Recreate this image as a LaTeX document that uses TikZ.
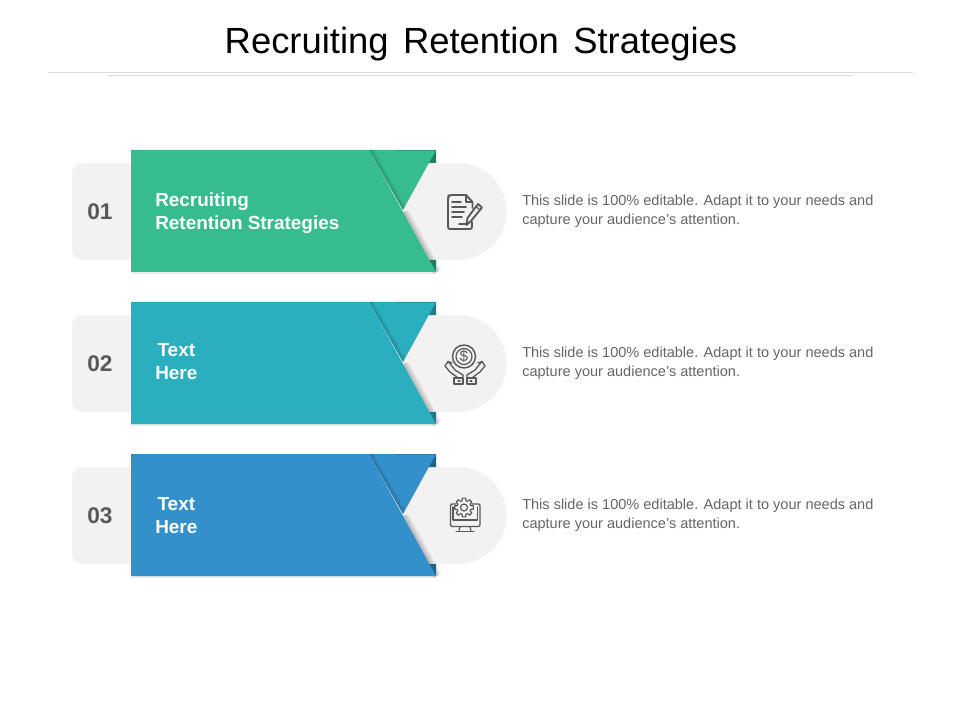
\documentclass[tikz,border=0pt]{standalone}
\usepackage{fontspec}
\setmainfont{Liberation Sans}
\usetikzlibrary{calc}
\definecolor{cGreen}{HTML}{36BC8F}
\definecolor{cGreenD}{HTML}{1F7F62}
\definecolor{cTeal}{HTML}{2AAFBF}
\definecolor{cTealD}{HTML}{1C7C8A}
\definecolor{cBlue}{HTML}{3490CB}
\definecolor{cBlueD}{HTML}{1F6389}
\definecolor{cPanel}{HTML}{F2F2F3}
\definecolor{cIcon}{HTML}{595959}
\definecolor{cBody}{HTML}{666666}
\tikzset{
  titletext/.style={font=\fontsize{27.3}{32}\selectfont,text=black,inner sep=0pt},
  numtext/.style={font=\fontsize{17}{20}\bfseries\selectfont,text=cIcon,inner sep=0pt},
  labeltext/.style={font=\fontsize{14.2}{17.2}\bfseries\selectfont,text=white,align=left,inner sep=0pt,anchor=west},
  bodytext/.style={font=\fontsize{10.9}{14.2}\selectfont,text=cBody,align=left,inner sep=0pt,anchor=west},
  iconline/.style={draw=cIcon,line width=1.4pt,line join=round,line cap=round},
  iconthin/.style={draw=cIcon,line width=0.9pt,line join=round,line cap=round},
  rule/.style={draw=black!14,line width=0.6pt},
}
\newcommand{\ribbonrow}[4]{%
\begin{scope}[shift={(0,#1)}]
  % panel
  \fill[cPanel,rounded corners=7.5pt] (72,163) rectangle (200,260);
  \fill[cPanel] (150,163) rectangle (458,260);
  \fill[cPanel] (458,211.5) circle[radius=36.4pt];
  % soft shadow right of the lower edge
  \foreach \w/\o in {8/0.03,6/0.05,4/0.06,2/0.08}{
    \draw[black,opacity=\o,line width=\w pt] (404,212) -- (437,272);
  }
  % soft line under the ribbon
  \fill[black,opacity=0.08] (131,272) rectangle (436,274);
  % dark corners
  \fill[#3] (428,163) -- (436,163) -- (436,150) -- cycle;
  \fill[#3] (428,260) -- (436,260) -- (436,272) -- cycle;
  % flap
  \fill[#2] (369,150) -- (436,150) -- (403,210) -- cycle;
  % flap shadow
  \begin{scope}
    \clip (369,150) -- (436,150) -- (403,210) -- cycle;
    \foreach \w/\o in {7/0.03,5/0.05,3/0.06,1.5/0.07}{
      \draw[black,opacity=\o,line width=\w pt] (369,150) -- (403,210);
    }
  \end{scope}
  % main
  \fill[#2] (131,150) -- (369,150) -- (436,272) -- (131,272) -- cycle;
  \draw[#3,opacity=0.45,line width=0.6pt] (396,150.2) -- (436,150.2);
  \node[numtext] (num#4) at (100,212) {#4};
\end{scope}}
\begin{document}
\begin{tikzpicture}[x=0.75pt,y=-0.75pt]
\useasboundingbox (0,0) rectangle (960,720);
\fill[white] (0,0) rectangle (960,720);
\node[titletext] (title) at (481,44) {Recruiting\hspace{0.12em} Retention\hspace{0.12em} Strategies};
\coordinate (ruleAa) at (48,72); \coordinate (ruleAb) at (913,72);
\coordinate (ruleBa) at (108,75); \coordinate (ruleBb) at (853,75);
\draw[rule] (ruleAa) -- (ruleAb);
\draw[rule] (ruleBa) -- (ruleBb);

\ribbonrow{0}{cGreen}{cGreenD}{01}
\ribbonrow{152}{cTeal}{cTealD}{02}
\ribbonrow{304}{cBlue}{cBlueD}{03}

\node[labeltext] (lab1) at (155,213) {Recruiting\\Retention Strategies};
\node[labeltext,align=center] (lab2) at (155,362) {Text\\Here};
\node[labeltext,align=center] (lab3) at (155,516) {Text\\Here};

\node[bodytext] (body1) at (522,211) {This slide is 100\% editable. Adapt it to your needs and\\capture your audience's attention.};
\node[bodytext] (body2) at (522,363) {This slide is 100\% editable. Adapt it to your needs and\\capture your audience's attention.};
\node[bodytext] (body3) at (522,515) {This slide is 100\% editable. Adapt it to your needs and\\capture your audience's attention.};

% icon 1: document and pen
\draw[iconline,rounded corners=1.5pt] (466,195) -- (449.5,195) -- (448,196.5) -- (448,229) -- (472,229) -- (472,222);
\draw[iconline] (466,195) -- (472.5,202) -- (472.5,208);
\draw[iconline] (466,195) -- (466,202) -- (472.5,202);
\draw[iconline] (452,202) -- (461,202) (452,207) -- (466,207) (452,212) -- (464,212) (452,217) -- (462,217) (459,224) -- (466,224);
\draw[iconline] (478,204) -- (482,207.5) -- (471,221) -- (466.5,225) -- (467.5,218) -- cycle;
\draw[iconthin] (476,206.5) -- (480,210);

% icon 2: coin in hands
\draw[iconthin,line width=1.1pt] (464,356.5) circle[radius=11.5];
\draw[iconthin] (464,356.5) circle[radius=8];
\node[font=\fontsize{11.5}{12}\selectfont,text=cIcon,inner sep=0pt] (dollar) at (464,356.5) {\$};
\draw[iconthin,line width=1pt] (457,377) -- (450,372) -- (445,366) -- (448,361.5) -- (451,365) -- (455,370) -- (463,375) -- (463,378);
\draw[iconthin,line width=1pt] (448,361.5) -- (452,363);
\draw[iconthin,line width=1pt] (473,377) -- (480,372) -- (485,366) -- (482,361.5) -- (479,365) -- (475,370) -- (467,375) -- (467,378);
\draw[iconthin,line width=1pt] (482,361.5) -- (478,363);
\draw[iconthin,line width=1pt] (454,378) rectangle (463,384);
\draw[iconthin,line width=1pt] (467,378) rectangle (476,384);
\draw[iconthin] (458,381) -- (460,381) (470,381) -- (472,381);

% icon 3: monitor with gear
\draw[iconthin,line width=1.1pt,rounded corners=1pt] (456,504) -- (450.5,504) -- (450.5,526.5) -- (480,526.5) -- (480,504) -- (472,504);
\draw[iconthin] (453,507) -- (453,520) -- (477.5,520) -- (477.5,507);
\draw[iconthin] (460,527) -- (459,530.5) (470,527) -- (471,530.5);
\draw[iconthin,line width=1.1pt] (456,531.5) -- (474,531.5);
\begin{scope}[shift={(464,507.5)}]
  \draw[iconthin,fill=cPanel] (-10:9.5)
    \foreach \a in {0,45,...,315}{ -- (\a-10:9.5) -- (\a+10:9.5) -- (\a+16:7) -- (\a+29:7) }
    -- cycle;
  \draw[iconthin] (0,0) circle[radius=3.5];
\end{scope}
\end{tikzpicture}
\end{document}
